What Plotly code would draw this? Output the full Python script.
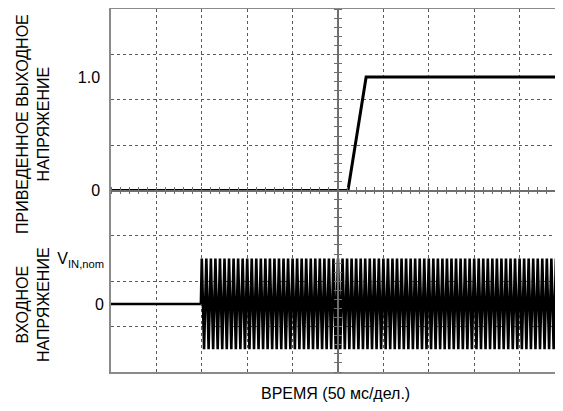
import plotly.graph_objects as go

# ---- data ----
# time axis: 50 ms per division (the last division is cut at the right edge)
x_max = 489
x_div = 50

# normalized output voltage (step ramp)
out_t = [0, 261, 281, 497.8]
out_v = [0.0, 0.0, 1.0, 1.0]

# input voltage: zero until the AC input is applied
in_flat_t = [0, 99]
in_flat_v = [0, 0]

# input voltage peaks after the AC input is applied (units of V_IN,nom)
in_t = [
    99, 100, 102.5, 105, 107.5, 110, 112.5, 115, 117.5, 120, 122.5, 125, 127.5, 130, 132.5, 135, 137.5, 140, 142.5, 145, 147.5,
    150, 152.5, 155, 157.5, 160, 162.5, 165, 167.5, 170, 172.5, 175, 177.5, 180, 182.5, 185, 187.5, 190, 192.5, 195, 197.5,
    200, 202.5, 205, 207.5, 210, 212.5, 215, 217.5, 220, 222.5, 225, 227.5, 230, 232.5, 235, 237.5, 240, 242.5, 245, 247.5,
    250, 252.5, 255, 257.5, 260, 262.5, 265, 267.5, 270, 272.5, 275, 277.5, 280, 282.5, 285, 287.5, 290, 292.5, 295, 297.5,
    300, 302.5, 305, 307.5, 310, 312.5, 315, 317.5, 320, 322.5, 325, 327.5, 330, 332.5, 335, 337.5, 340, 342.5, 345, 347.5,
    350, 352.5, 355, 357.5, 360, 362.5, 365, 367.5, 370, 372.5, 375, 377.5, 380, 382.5, 385, 387.5, 390, 392.5, 395, 397.5,
    400, 402.5, 405, 407.5, 410, 412.5, 415, 417.5, 420, 422.5, 425, 427.5, 430, 432.5, 435, 437.5, 440, 442.5, 445, 447.5,
    450, 452.5, 455, 457.5, 460, 462.5, 465, 467.5, 470, 472.5, 475, 477.5, 480, 482.5, 485, 487.5, 490, 492.5, 495, 497.5,
    500,
]
in_v = [
    0, 1, -1, 1, -1, 1, -1, 1, -1, 1, -1, 1, -1, 1, -1, 1, -1, 1, -1, 1, -1,
    1, -1, 1, -1, 1, -1, 1, -1, 1, -1, 1, -1, 1, -1, 1, -1, 1, -1, 1, -1,
    1, -1, 1, -1, 1, -1, 1, -1, 1, -1, 1, -1, 1, -1, 1, -1, 1, -1, 1, -1,
    1, -1, 1, -1, 1, -1, 1, -1, 1, -1, 1, -1, 1, -1, 1, -1, 1, -1, 1, -1,
    1, -1, 1, -1, 1, -1, 1, -1, 1, -1, 1, -1, 1, -1, 1, -1, 1, -1, 1, -1,
    1, -1, 1, -1, 1, -1, 1, -1, 1, -1, 1, -1, 1, -1, 1, -1, 1, -1, 1, -1,
    1, -1, 1, -1, 1, -1, 1, -1, 1, -1, 1, -1, 1, -1, 1, -1, 1, -1, 1, -1,
    1, -1, 1, -1, 1, -1, 1, -1, 1, -1, 1, -1, 1, -1, 1, -1, 1, -1, 1, -1,
    1,
]

out_ticks = [0, 1.0]
out_tick_text = ["0", "1.0"]
in_ticks = [0, 1]
in_tick_text = ["0", "V<sub>IN,nom</sub>"]

title_out = "ПРИВЕДЕННОЕ ВЫХОДНОЕ<br>НАПРЯЖЕНИЕ"
title_in = "ВХОДНОЕ<br>НАПРЯЖЕНИЕ"
title_x = "ВРЕМЯ (50 мс/дел.)"

# ---- figure ----
GRID = "#5a5a5a"
BORDER = "#8a8a8a"
CENTER = "#6e6e6e"

W, H = 547, 395          # page has an 8 px body margin
L, R, T, B = 103, 0, 1, 31
PW, PH = W - L - R, H - T - B

fig = go.Figure()

fig.add_trace(go.Scatter(x=in_t, y=in_v, mode="lines", xaxis="x", yaxis="y2",
                         line=dict(color="black", width=2.6), hoverinfo="skip"))
fig.add_trace(go.Scatter(x=in_flat_t, y=in_flat_v, mode="lines", xaxis="x", yaxis="y2",
                         line=dict(color="black", width=2.6), hoverinfo="skip"))
fig.add_trace(go.Scatter(x=out_t, y=out_v, mode="lines", xaxis="x", yaxis="y",
                         line=dict(color="black", width=3), hoverinfo="skip"))

# dummy traces so that the helper axes are registered
for xa, ya in [("x2", "y"), ("x3", "y"), ("x", "y3"), ("x", "y4"), ("x", "y5")]:
    fig.add_trace(go.Scatter(x=[None], y=[None], xaxis=xa, yaxis=ya, mode="lines",
                             showlegend=False, hoverinfo="skip"))

center_pos = 250 / x_max  # center vertical line at 5 divisions

common = dict(automargin=False, fixedrange=True, zeroline=False)

fig.update_layout(
    template="none",
    width=W, height=H,
    margin=dict(l=L, r=R, t=T, b=B, pad=0, autoexpand=False),
    plot_bgcolor="white", paper_bgcolor="white",
    showlegend=False,
    font=dict(family="Liberation Sans, Arial, sans-serif", size=16, color="black"),
    xaxis=dict(range=[0, x_max], dtick=x_div, tick0=0, showgrid=True,
               gridcolor=GRID, griddash="3px,3px", gridwidth=1,
               showticklabels=False, ticks="",
               showline=True, linecolor=BORDER, linewidth=1.5, mirror=True,
               **common),
    yaxis=dict(range=[-1.6, 1.6], tickmode="array", tickvals=out_ticks,
               ticktext=out_tick_text, showgrid=False,
               showline=True, linecolor=BORDER, linewidth=1.5,
               ticks="", ticklabelstandoff=6, **common),
    yaxis2=dict(range=[-1.5, 6.5], overlaying="y", side="left",
                tickmode="array", tickvals=in_ticks, ticktext=in_tick_text,
                showgrid=False, showline=False,
                ticks="", ticklabelstandoff=6, **common),
    # horizontal grid lines (one per division)
    yaxis5=dict(range=[0, 8], dtick=1, overlaying="y", showgrid=True,
                gridcolor=GRID, griddash="3px,3px", gridwidth=1,
                showticklabels=False, ticks="", showline=False, **common),
    # center horizontal line with minor ticks (down and up)
    xaxis2=dict(range=[0, x_max], dtick=10, tick0=0, overlaying="x", anchor="free",
                position=0.5, side="bottom", showline=True, linecolor=CENTER,
                linewidth=1.5, ticks="outside", ticklen=3, tickcolor=CENTER,
                tickwidth=1, showticklabels=False, showgrid=False, **common),
    xaxis3=dict(range=[0, x_max], dtick=10, tick0=0, overlaying="x", anchor="free",
                position=0.5, side="top", showline=True, linecolor=CENTER,
                linewidth=1.5, ticks="outside", ticklen=3, tickcolor=CENTER,
                tickwidth=1, showticklabels=False, showgrid=False, **common),
    # center vertical line with minor ticks (left and right)
    yaxis3=dict(range=[0, 40], dtick=1, tick0=0, overlaying="y", anchor="free",
                position=center_pos, side="left", showline=True, linecolor=CENTER,
                linewidth=1.5, ticks="outside", ticklen=3, tickcolor=CENTER,
                tickwidth=1, showticklabels=False, showgrid=False, **common),
    yaxis4=dict(range=[0, 40], dtick=1, tick0=0, overlaying="y", anchor="free",
                position=center_pos, side="right", showline=True, linecolor=CENTER,
                linewidth=1.5, ticks="outside", ticklen=3, tickcolor=CENTER,
                tickwidth=1, showticklabels=False, showgrid=False, **common),
    annotations=[
        dict(text=title_out, xref="paper", yref="paper", x=(25 - L) / PW,
             y=(T + PH - 116) / PH, textangle=-90, showarrow=False,
             xanchor="center", yanchor="middle", align="center",
             font=dict(size=16)),
        dict(text=title_in, xref="paper", yref="paper", x=(25 - L) / PW,
             y=(T + PH - 297) / PH, textangle=-90, showarrow=False,
             xanchor="center", yanchor="middle", align="center",
             font=dict(size=16)),
        dict(text=title_x, xref="paper", yref="paper", x=(327.5 - L) / PW,
             y=(T + PH - 385) / PH, showarrow=False,
             xanchor="center", yanchor="middle", align="center",
             font=dict(size=16)),
    ],
)

fig.write_html("out.html")
